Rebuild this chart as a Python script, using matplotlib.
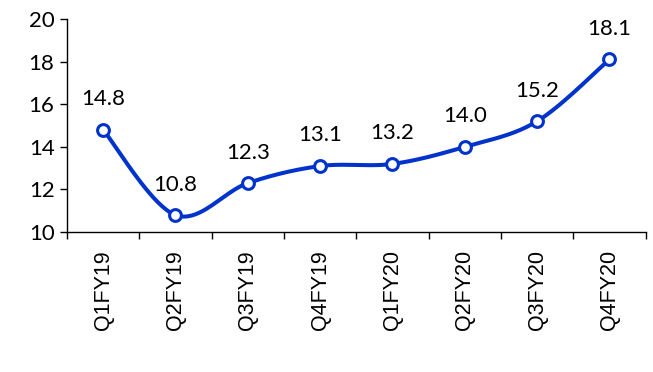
import numpy as np
import matplotlib
matplotlib.use("Agg")
import matplotlib.pyplot as plt

quarters = ["Q1FY19", "Q2FY19", "Q3FY19", "Q4FY19", "Q1FY20", "Q2FY20", "Q3FY20", "Q4FY20"]
values = [14.8, 10.8, 12.3, 13.1, 13.2, 14.0, 15.2, 18.1]
y_ticks = [10, 12, 14, 16, 18, 20]

LINE_BLUE = "#0033CC"


def smooth_curve(xs, ys, steps=40):
    """Catmull-Rom style Bezier smoothing through every point."""
    xs = np.asarray(xs, float)
    ys = np.asarray(ys, float)
    pts = np.column_stack([xs, ys])
    n = len(pts)
    out = []
    for i in range(n - 1):
        p0 = pts[i - 1] if i > 0 else pts[i]
        p1 = pts[i]
        p2 = pts[i + 1]
        p3 = pts[i + 2] if i + 2 < n else pts[i + 1]
        c1 = p1 + (p2 - p0) / 6.0
        c2 = p2 - (p3 - p1) / 6.0
        t = np.linspace(0, 1, steps)[:, None]
        seg = ((1 - t) ** 3) * p1 + 3 * ((1 - t) ** 2) * t * c1 + 3 * (1 - t) * t ** 2 * c2 + t ** 3 * p2
        out.append(seg if i == 0 else seg[1:])
    seg = np.vstack(out)
    return seg[:, 0], seg[:, 1]


fig = plt.figure(figsize=(6.53, 3.72), dpi=100)
ax = fig.add_axes([0.1026, 0.376, 0.886, 0.573])

x = np.arange(len(quarters))
sx, sy = smooth_curve(x, values)
ax.plot(sx, sy, color=LINE_BLUE, lw=2.9, solid_capstyle="round", zorder=2)
ax.plot(x, values, linestyle="none", marker="o", markersize=8.5,
        markerfacecolor="white", markeredgecolor=LINE_BLUE, markeredgewidth=2.2, zorder=3)

for xi, v in zip(x, values):
    ax.annotate(f"{v:.1f}", (xi, v), xytext=(0, 22), textcoords="offset points",
                ha="center", va="center", fontsize=16, family="Lato", color="black")

ax.set_xlim(-0.5, len(quarters) - 0.5)
ax.set_ylim(10, 20)
ax.set_yticks(y_ticks)
ax.set_yticklabels([str(t) for t in y_ticks], family="Lato", fontsize=16)

ax.set_xticks(x)
ax.set_xticklabels(quarters, rotation=90, family="Liberation Sans", fontsize=15.5)
ax.tick_params(axis="x", which="major", length=0, pad=13)
ax.set_xticks(np.arange(-0.5, len(quarters)), minor=True)
ax.tick_params(axis="x", which="minor", length=5, width=1, color="black")
ax.tick_params(axis="y", length=5, width=1, pad=4)

for side in ("top", "right"):
    ax.spines[side].set_visible(False)
for side in ("left", "bottom"):
    ax.spines[side].set_linewidth(1)
    ax.spines[side].set_color("black")

fig.savefig("out.png", dpi=100)
